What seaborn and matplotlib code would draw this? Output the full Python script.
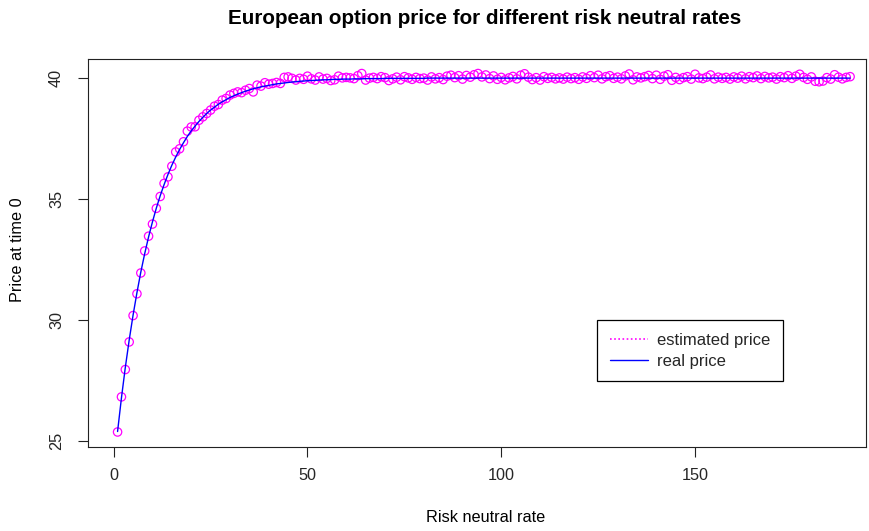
import matplotlib
matplotlib.use("Agg")
import matplotlib.pyplot as plt
from matplotlib.lines import Line2D
import pandas as pd
import seaborn as sns

# Risk neutral rate grid
rate = list(range(1, 191))

# Analytical (real) option price at time 0
real_price = [
    25.40, 26.79, 28.05, 29.18, 30.21, 31.14, 31.99, 32.75, 33.44, 34.06,
    34.63, 35.14, 35.60, 36.02, 36.40, 36.74, 37.05, 37.33, 37.59, 37.82,
    38.02, 38.21, 38.38, 38.54, 38.68, 38.80, 38.92, 39.02, 39.11, 39.20,
    39.27, 39.34, 39.40, 39.46, 39.51, 39.56, 39.60, 39.64, 39.67, 39.70,
    39.73, 39.76, 39.78, 39.80, 39.82, 39.84, 39.85, 39.87, 39.88, 39.89,
    39.90, 39.91, 39.92, 39.93, 39.93, 39.94, 39.95, 39.95, 39.96, 39.96,
    39.96, 39.97, 39.97, 39.97, 39.98, 39.98, 39.98, 39.98, 39.98, 39.99,
    39.99, 39.99, 39.99, 39.99, 39.99, 39.99, 39.99, 39.99, 39.99, 39.99,
    40.00, 40.00, 40.00, 40.00, 40.00, 40.00, 40.00, 40.00, 40.00, 40.00,
    40.00, 40.00, 40.00, 40.00, 40.00, 40.00, 40.00, 40.00, 40.00, 40.00,
    40.00, 40.00, 40.00, 40.00, 40.00, 40.00, 40.00, 40.00, 40.00, 40.00,
    40.00, 40.00, 40.00, 40.00, 40.00, 40.00, 40.00, 40.00, 40.00, 40.00,
    40.00, 40.00, 40.00, 40.00, 40.00, 40.00, 40.00, 40.00, 40.00, 40.00,
    40.00, 40.00, 40.00, 40.00, 40.00, 40.00, 40.00, 40.00, 40.00, 40.00,
    40.00, 40.00, 40.00, 40.00, 40.00, 40.00, 40.00, 40.00, 40.00, 40.00,
    40.00, 40.00, 40.00, 40.00, 40.00, 40.00, 40.00, 40.00, 40.00, 40.00,
    40.00, 40.00, 40.00, 40.00, 40.00, 40.00, 40.00, 40.00, 40.00, 40.00,
    40.00, 40.00, 40.00, 40.00, 40.00, 40.00, 40.00, 40.00, 40.00, 40.00,
    40.00, 40.00, 40.00, 40.00, 40.00, 40.00, 40.00, 40.00, 40.00, 40.00,
]

# Monte Carlo estimate of the same price
estimated_price = [
    25.38, 26.83, 27.96, 29.10, 30.19, 31.09, 31.95, 32.86, 33.47, 33.97,
    34.62, 35.11, 35.65, 35.92, 36.36, 36.95, 37.08, 37.37, 37.81, 37.98,
    37.99, 38.26, 38.40, 38.54, 38.68, 38.84, 38.91, 39.09, 39.16, 39.30,
    39.37, 39.43, 39.40, 39.50, 39.57, 39.43, 39.71, 39.67, 39.81, 39.75,
    39.78, 39.82, 39.78, 40.03, 40.05, 39.99, 39.92, 39.99, 39.95, 40.08,
    39.97, 39.92, 40.05, 39.96, 39.99, 39.90, 39.93, 40.08, 40.01, 40.03,
    40.01, 39.98, 40.10, 40.19, 39.92, 40.00, 40.03, 39.98, 40.06, 40.02,
    39.90, 39.97, 40.04, 39.93, 40.06, 40.01, 39.95, 40.03, 39.98, 40.00,
    39.92, 40.05, 39.97, 40.02, 39.94, 40.08, 40.12, 40.02, 40.10, 39.96,
    40.11, 40.04, 40.14, 40.19, 40.05, 40.13, 39.98, 40.09, 39.95, 40.03,
    39.93, 40.01, 40.07, 39.97, 40.12, 40.18, 40.04, 39.94, 40.02, 39.92,
    40.06, 39.99, 40.03, 39.97, 40.01, 39.96, 40.04, 39.98, 40.02, 39.95,
    40.05, 39.99, 40.10, 40.02, 40.12, 39.97, 40.06, 40.10, 39.99, 40.04,
    39.97, 40.09, 40.17, 39.93, 40.05, 40.01, 40.06, 40.11, 39.98, 40.12,
    39.95, 40.08, 40.14, 39.91, 40.03, 39.94, 40.02, 40.06, 39.96, 40.16,
    40.01, 39.98, 40.04, 40.13, 39.97, 40.04, 39.99, 40.03, 39.96, 40.05,
    40.00, 40.08, 39.97, 40.06, 40.02, 40.09, 39.98, 40.07, 40.01, 40.04,
    39.96, 40.06, 40.02, 40.10, 39.99, 40.08, 40.16, 40.03, 39.95, 40.05,
    39.87, 39.85, 39.88, 40.02, 39.96, 40.14, 40.04, 39.97, 40.03, 40.06,
]

x_ticks = [0, 50, 100, 150]
y_ticks = [25, 30, 35, 40]

df = pd.DataFrame({"rate": rate, "real": real_price, "estimated": estimated_price})

sns.set_theme(style="white")
plt.rcParams["font.family"] = ["Liberation Sans", "DejaVu Sans"]

W, H = 869, 531
fig = plt.figure(figsize=(W / 100, H / 100), dpi=100)
left, right, top, bottom = 88, 866, 59, 447
ax = fig.add_axes([left / W, 1 - bottom / H, (right - left) / W, (bottom - top) / H])

MAGENTA = "#FF00FF"
BLUE = "#0000FF"

sns.scatterplot(data=df, x="rate", y="estimated", ax=ax, marker="o", s=36,
                facecolor="none", edgecolor=MAGENTA, linewidth=0.9, zorder=2)
sns.lineplot(data=df, x="rate", y="real", ax=ax, color=BLUE, linewidth=1.0,
             zorder=3)

ax.set_xlim(-6.63, 194.1)
ax.set_ylim(24.76, 40.79)
ax.set_xticks(x_ticks)
ax.set_yticks(y_ticks)
ax.set_xticklabels([str(t) for t in x_ticks], fontsize=11.7)
ax.set_yticklabels([str(t) for t in y_ticks], fontsize=11.7, rotation=90,
                   va="center")
ax.tick_params(axis="both", direction="out", length=7.2, width=0.8,
               color="#222222", bottom=True, left=True)
ax.tick_params(axis="x", pad=8)
ax.tick_params(axis="y", pad=10)
for sp in ax.spines.values():
    sp.set_color("#222222")
    sp.set_linewidth(0.8)

ax.set_xlabel("")
ax.set_ylabel("")
fig.text(486 / W, 1 - 518 / H, "Risk neutral rate", ha="center", va="center",
         fontsize=11.7, color="black")
fig.text(18 / W, 1 - 250 / H, "Price at time 0", ha="center", va="center",
         rotation=90, fontsize=11.7, color="black")
fig.text(485 / W, 1 - 18 / H,
         "European option price for different risk neutral rates",
         ha="center", va="center", fontsize=14.9, fontweight="bold",
         color="black")

handles = [
    Line2D([], [], color=MAGENTA, linestyle=(0, (1, 1.5)), linewidth=1.2),
    Line2D([], [], color=BLUE, linestyle="-", linewidth=1.0),
]
leg = ax.legend(handles, ["estimated price", "real price"],
                loc="upper left",
                bbox_to_anchor=(597 / W, 1 - 320 / H),
                bbox_transform=fig.transFigure,
                fontsize=12, frameon=True, fancybox=False, framealpha=1,
                edgecolor="black", handlelength=2.3, handletextpad=0.55,
                borderpad=0.75, labelspacing=0.37, borderaxespad=0)
leg.get_frame().set_linewidth(0.9)

fig.savefig("out.png", dpi=100)
